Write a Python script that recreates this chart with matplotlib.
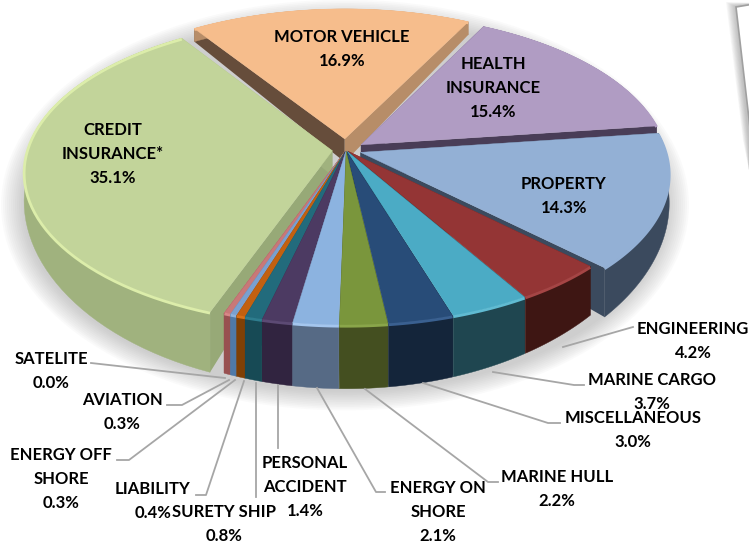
import numpy as np
import matplotlib
matplotlib.use('Agg')
import matplotlib.pyplot as plt
from matplotlib.patches import Polygon, Ellipse

plt.rcParams['font.family'] = ['Lato', 'DejaVu Sans']

# data, clockwise from motor vehicle
names = ['MOTOR VEHICLE', 'HEALTH\nINSURANCE', 'PROPERTY', 'ENGINEERING', 'MARINE CARGO',
         'MISCELLANEOUS', 'MARINE HULL', 'ENERGY ON\nSHORE', 'PERSONAL\nACCIDENT', 'SURETY SHIP',
         'LIABILITY', 'ENERGY OFF\nSHORE', 'AVIATION', 'SATELITE', 'CREDIT\nINSURANCE*']
shares = [16.9, 15.4, 14.3, 4.2, 3.7, 3.0, 2.2, 2.1, 1.4, 0.8, 0.4, 0.3, 0.3, 0.0, 35.1]

top_cols = ['#f6bd8c', '#b09cc3', '#93b0d5', '#943535', '#4babc5', '#284c78', '#7a963c', '#8cb3e0',
            '#4c3a62', '#226b7c', '#c26010', '#7aa0d0', '#c87878', '#c87878', '#c2d49a']
side_cols = ['#b78d68', '#493d57', '#3b4a5e', '#3e1613', '#1f4650', '#14253a', '#444f20', '#566a85',
             '#312440', '#174a55', '#7f4005', '#4f7aa8', '#985050', '#985050', '#a0b27e']
cut_cols = ['#664d3b', '#493d57', '#3b4a5e', '#3e1613', '#1f4650', '#14253a', '#444f20', '#566a85',
            '#312440', '#174a55', '#7f4005', '#4f7aa8', '#985050', '#985050', '#97a977']
rim_cols = ['#f6bd8c', '#b09cc3', '#93b0d5', '#a54545', '#60bbd2', '#3a6090', '#8aa64a', '#a4c6ee',
            '#5c4a74', '#2e7d8e', '#d87018', '#8cb0dc', '#d88888', '#d88888', '#dcedaa']
explode = [0.075, 0.06, 0.05, 0.01, 0.01, 0.01, 0.01, 0.01, 0.01, 0.01, 0.01, 0.01, 0.01, 0.01, 0.045]

# label centres and leader lines, in pixels
label_xy = [(342, 49), (493, 88), (564, 196), (693, 341), (652, 392), (633, 430), (557, 489),
            (438, 512), (305, 487), (224, 524), (153, 501), (61, 479), (122, 412), (51, 371), (113, 154)]
leaders = [None, None, None,
           [(633, 327), (563, 347)],
           [(584, 385), (574, 385), (493, 372)],
           [(560, 423), (548, 423), (423, 383)],
           [(498, 482), (488, 482), (365, 389)],
           [(385, 492), (376, 492), (317, 388)],
           [(278, 448), (278, 385)],
           [(256, 497), (256, 383)],
           [(196, 495), (206, 495), (244, 381)],
           [(117, 460), (129, 460), (235, 380)],
           [(167, 405), (182, 405), (229, 380)],
           [(91, 363), (225, 378)],
           None]

# tilted disc, projected with a little perspective
cx, cy = 346, 150
A, B, k = 305, 150, 0.134
start = -33.6


def project(u, v):
    w = 1 + k * v
    return cx + A * u / w, cy - B * v / w


def depth(v):
    return 25 - 25 * v + 13 * v ** 2


fig = plt.figure(figsize=(7.49, 5.45), dpi=100)
ax = fig.add_axes([0, 0, 1, 1])
ax.set_xlim(0, 749)
ax.set_ylim(545, 0)
ax.axis('off')

# text box corner top right, with its shadow
for off in range(10, 0, -1):
    ax.add_patch(Polygon([(736 - off, 7 - off / 2), (760, 3), (760, 200), (749 + off * 0.6, 200), (749 - off * 0.6, 140)],
                         fc='#707070', ec='none', alpha=0.05, zorder=0))
ax.add_patch(Polygon([(736, 7), (760, 3), (760, 214)], fc='white', ec='#a0a0a0', lw=1.2, zorder=0.1))

# soft shadow below the pie
for i in range(12):
    ax.add_patch(Ellipse((345, 205), 640 + 4 * (12 - i), 370 + 3.4 * (12 - i), fc='#808080', ec='none',
                         alpha=0.035, zorder=0.5))

total = sum(shares)
angles = np.cumsum([0] + shares) / total * 360 + start

# order from the back of the pie to the front
mids = (angles[:-1] + angles[1:]) / 2
order = sorted(range(len(shares)), key=lambda j: np.cos(np.radians(mids[j])), reverse=True)

for j in order:
    t = np.radians(np.linspace(angles[j], angles[j + 1], 60))
    m = np.radians(mids[j])
    ou, ov = explode[j] * np.sin(m), explode[j] * np.cos(m)
    u, v = ou + np.sin(t), ov + np.cos(t)
    x, y = project(u, v)
    ax0, ay0 = project(ou, ov)
    d = depth(v)
    d0 = depth(ov)
    z = 2 + np.cos(m) * -1

    # cut faces
    ax.add_patch(Polygon([(ax0, ay0), (x[0], y[0]), (x[0], y[0] + d[0]), (ax0, ay0 + d0)],
                         fc=cut_cols[j], ec='none', zorder=z))
    ax.add_patch(Polygon([(ax0, ay0), (x[-1], y[-1]), (x[-1], y[-1] + d[-1]), (ax0, ay0 + d0)],
                         fc=side_cols[j], ec='none', zorder=z + 0.001))

    # outer wall and top
    wall = np.r_[np.c_[x, y], np.c_[x, y + d][::-1]]
    ax.add_patch(Polygon(wall, fc=side_cols[j], ec=side_cols[j], lw=0.3, zorder=z + 0.002))
    ax.add_patch(Polygon(np.r_[[(ax0, ay0)], np.c_[x, y]], fc=top_cols[j], ec=top_cols[j], lw=0.3, zorder=z + 0.003))

    # bevel along the rim
    ax.plot(x, y + 1, color=rim_cols[j], lw=2, solid_capstyle='butt', zorder=z + 0.004)

for j in range(len(shares)):
    if leaders[j] is not None:
        px, py = zip(*leaders[j])
        ax.plot(px, py, color='#a6a6a6', lw=1.3, zorder=4)
    ax.text(label_xy[j][0], label_xy[j][1], f'{names[j]}\n{shares[j]:.1f}%', ha='center', va='center',
            fontsize=12, fontweight='bold', color='black', linespacing=1.65, zorder=5)

plt.savefig('out.png', dpi=100)
